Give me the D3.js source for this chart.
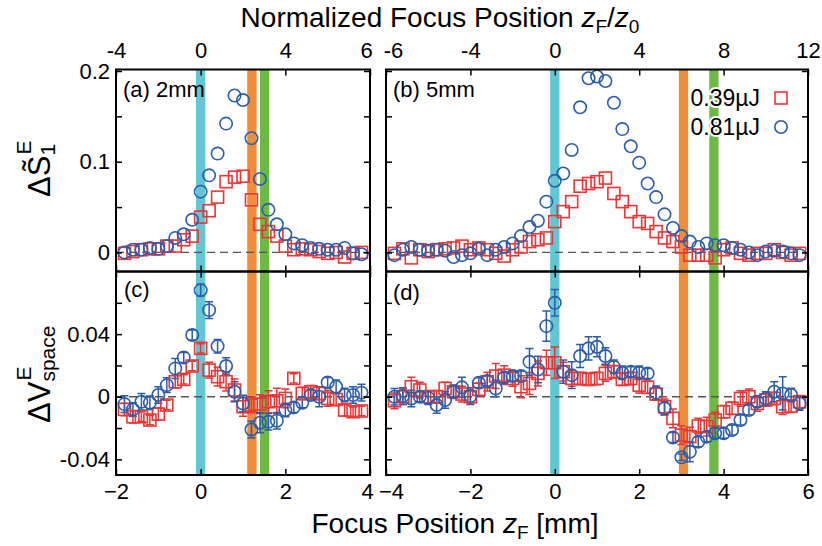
<!DOCTYPE html>
<html>
<head>
<meta charset="utf-8">
<script src="https://cdn.jsdelivr.net/npm/d3@7"></script>
<style>
body { margin: 0; background: #fff; }
text { font-family: "Liberation Sans", Arial, sans-serif; }
</style>
</head>
<body>
<div id="chart"></div>
<script>
const W = 822, H = 546;

// ---- data (focus position in mm) ----
const posA = [-1.8,-1.6,-1.4,-1.2,-1.0,-0.8,-0.6,-0.4,-0.2,0,0.2,0.4,0.6,0.8,1.0,1.2,1.4,1.6,1.8,2.0,2.2,2.4,2.6,2.8,3.0,3.2,3.4,3.6,3.8];
const posB = [-3.8,-3.6,-3.4,-3.2,-3.0,-2.8,-2.6,-2.4,-2.2,-2.0,-1.8,-1.6,-1.4,-1.2,-1.0,-0.8,-0.6,-0.4,-0.2,0,
  0.2,0.4,0.6,0.8,1.0,1.2,1.4,1.6,1.8,2.0,2.2,2.4,2.6,2.8,3.0,3.2,3.4,3.6,3.8,4.0,
  4.2,4.4,4.6,4.8,5.0,5.2,5.4,5.6,5.8];

// (a) 2mm, dS1
const s1A_low  = [-0.001,0.001,0.003,0.004,0.004,0.007,0.007,0.014,0.018,0.039,0.046,0.061,0.078,0.083,0.084,0.058,0.031,0.023,0.018,0.007,0.003,0.004,0.003,0.001,-0.001,0.000,-0.005,-0.001,0.000];
const s1A_high = [0.000,0.003,0.003,0.005,0.004,0.007,0.016,0.020,0.036,0.067,0.085,0.109,0.142,0.173,0.168,0.126,0.081,0.047,0.031,0.020,0.010,0.008,0.005,0.004,0.003,0.003,0.005,-0.001,-0.002];

// (b) 5mm, dS1
const s1B_low  = [-0.001,0.004,-0.006,0.003,0.001,0.003,0.004,0.005,0.007,0.003,0.005,0.003,-0.001,-0.004,0.003,0.006,0.012,0.014,0.016,0.034,
  0.045,0.056,0.073,0.076,0.078,0.082,0.065,0.056,0.045,0.034,0.032,0.023,0.016,0.012,0.006,-0.003,-0.003,-0.003,-0.006,0.003,
  0.005,-0.001,-0.003,-0.001,-0.001,0.003,0.000,-0.003,-0.001];
const s1B_high = [-0.003,0.003,0.006,0.003,0.002,0.003,0.002,-0.005,-0.003,-0.001,0.004,-0.003,0.003,0.006,0.010,0.018,0.028,0.035,0.056,0.079,
  0.087,0.113,0.160,0.192,0.194,0.189,0.165,0.136,0.117,0.099,0.076,0.061,0.042,0.027,0.018,0.012,0.006,0.010,0.008,0.008,
  0.005,0.003,0.000,-0.003,0.001,0.002,0.001,-0.001,-0.003];

// (c) 2mm, dV space
const vA_low      = [-0.0081,-0.0128,-0.0128,-0.0149,-0.0111,-0.0053,0.0096,0.0111,0.0196,0.0309,0.017,0.0128,0.0096,0.0043,-0.0064,-0.0053,-0.0047,-0.0032,-0.0026,-0.0011,0.0117,0.0021,0.0032,0.0021,-0.0011,-0.0017,-0.0085,-0.0096,-0.0091];
const vA_low_err  = [0.004,0.004,0.003,0.003,0.004,0.003,0.004,0.003,0.003,0.003,0.005,0.006,0.006,0.007,0.006,0.005,0.006,0.007,0.008,0.006,0.003,0.004,0.004,0.004,0.005,0.004,0.004,0.003,0.003];
const vA_high     = [-0.0047,-0.0081,-0.0032,-0.0038,0.0011,0.0074,0.0181,0.0251,0.0394,0.0681,0.0553,0.0323,0.0196,0.0032,-0.0043,-0.0209,-0.0166,-0.016,-0.0153,-0.0085,-0.0068,-0.0038,0.0011,0.0,0.0091,0.0064,0.0011,0.0011,0.0026];
const vA_high_err = [0.0053,0.0043,0.0053,0.0043,0.0053,0.0047,0.0064,0.0032,0.0032,0.0038,0.0053,0.0043,0.0053,0.0064,0.0053,0.0053,0.0064,0.0053,0.0053,0.0043,0.0032,0.0032,0.0032,0.0064,0.0032,0.0043,0.0043,0.0053,0.0053];

// (d) 5mm, dV space
const vB_low      = [-0.0026,0.0,0.0064,0.0043,0.0,0.0,0.0053,0.0032,0.0017,0.0,0.0047,0.0096,0.0132,0.0138,0.0117,0.0064,0.0085,0.0149,0.0217,0.0217,
  0.016,0.0117,0.0117,0.0111,0.0117,0.0149,0.016,0.0111,0.0117,0.0074,0.006,0.0017,-0.0064,-0.0138,-0.0245,-0.0255,-0.0187,-0.0191,-0.0149,-0.0096,
  -0.0074,-0.0011,0.0,-0.0043,-0.0021,-0.0011,-0.0064,-0.006,-0.0032];
const vB_low_err  = [0.005,0.005,0.006,0.005,0.004,0.004,0.004,0.004,0.005,0.004,0.004,0.006,0.008,0.006,0.005,0.007,0.007,0.008,0.008,0.010,
  0.006,0.005,0.004,0.004,0.004,0.005,0.004,0.004,0.004,0.005,0.004,0.004,0.005,0.006,0.006,0.006,0.005,0.006,0.005,0.004,
  0.004,0.005,0.005,0.005,0.004,0.004,0.005,0.004,0.004];
const vB_high     = [0.0,0.0004,-0.0011,0.0,-0.0006,-0.0053,-0.0021,0.0032,0.006,0.0004,0.0089,0.01,0.0053,0.0123,0.0132,0.0132,0.0223,0.0174,0.0451,0.06,
  0.016,0.0138,0.026,0.0309,0.0319,0.026,0.0191,0.0153,0.016,0.0153,0.0149,0.0026,-0.0074,-0.026,-0.0387,-0.0351,-0.0287,-0.0255,-0.0234,-0.0234,
  -0.0213,-0.0149,-0.0085,-0.0032,-0.0011,0.0032,0.0021,0.0011,-0.0043];
const vB_high_err = [0.0053,0.0053,0.0053,0.0032,0.0043,0.0053,0.0053,0.0043,0.0064,0.0053,0.0032,0.0032,0.0053,0.0032,0.0032,0.0032,0.0085,0.0085,0.0096,0.0085,
  0.0074,0.0085,0.0074,0.0074,0.0064,0.0053,0.0043,0.0043,0.0032,0.0043,0.0032,0.0043,0.0043,0.0032,0.0021,0.0064,0.0032,0.0032,0.0032,0.0032,
  0.0032,0.0032,0.0032,0.0032,0.0043,0.0064,0.0106,0.0043,0.0043];

// marker bands (mm)
const bandsA = [0, 1.21, 1.51];
const bandsB = [0, 3.05, 3.77];
const BAND_W = 0.22;

const legendLabels = ["0.39\u00b5J", "0.81\u00b5J"];

// tick labels
const xTicksA = [-2, 0, 2, 4];
const xTicksB = [-4, -2, 0, 2, 4, 6];
const nTicksA = [-4, 0, 4, 8];
const nTicksB = [-8, -4, 0, 4, 8, 12];
const nLabelsA = ["-4", "0", "4", "6"];
const nLabelsB = ["-6", "-4", "0", "4", "8", "12"];
const sTicks = [0, 0.05, 0.1, 0.15, 0.2];
const sLabels = {0: "0", 0.1: "0.1", 0.2: "0.2"};
const vTicks = [-0.04, -0.02, 0, 0.02, 0.04, 0.06];
const vLabels = {"-0.04": "-0.04", "0": "0", "0.04": "0.04"};

// ---- style ----
const RED = "#ee3535", BLUE = "#2c5dab";
const BAND_COL = ["#62c6d3", "#ef8d38", "#6cb944"];
const FONT = 22;

// ---- layout ----
const TOP_Y = 69.5, MID_Y = 271.5, BOT_Y = 475;

const xA = d3.scaleLinear().domain([-2, 4]).range([116, 370]);
const xB = d3.scaleLinear().domain([-4, 6]).range([386, 808]);
const nA = d3.scaleLinear().domain([-4, 8]).range([116, 370]);
const nB = d3.scaleLinear().domain([-8, 12]).range([386, 808]);
const yS = d3.scaleLinear().domain([-0.021, 0.2]).range([MID_Y, 71]);
const yV = d3.scaleLinear().domain([-0.05, 0.08]).range([BOT_Y, MID_Y]);

const svg = d3.select("#chart").append("svg")
  .attr("width", W)
  .attr("height", H)
  .style("background", "#fff");

// bands behind everything
function drawBands(x, bands) {
  svg.append("g").selectAll("rect")
    .data(bands)
    .enter()
    .append("rect")
    .attr("x", d => x(d - BAND_W / 2))
    .attr("width", d => x(d + BAND_W / 2) - x(d - BAND_W / 2))
    .attr("y", TOP_Y)
    .attr("height", BOT_Y - TOP_Y)
    .attr("fill", (d, i) => BAND_COL[i]);
}
drawBands(xA, bandsA);
drawBands(xB, bandsB);

// zero lines
function zeroLine(x, y) {
  svg.append("line")
    .attr("x1", x.range()[0]).attr("x2", x.range()[1])
    .attr("y1", y(0)).attr("y2", y(0))
    .attr("stroke", "#555")
    .attr("stroke-width", 1.3)
    .attr("stroke-dasharray", "8,5");
}
zeroLine(xA, yS); zeroLine(xB, yS); zeroLine(xA, yV); zeroLine(xB, yV);

function errorBars(x, y, xs, vals, errs, col) {
  const g = svg.append("g").attr("stroke", col).attr("stroke-width", 1.5);
  const data = xs.map((d, i) => ({x: d, v: vals[i], e: errs[i]}));
  g.selectAll(".eb").data(data).enter().append("path")
    .attr("fill", "none")
    .attr("d", d => {
      const cx = x(d.x), y1 = y(d.v - d.e), y2 = y(d.v + d.e);
      return `M${cx},${y1}V${y2}M${cx - 4},${y1}H${cx + 4}M${cx - 4},${y2}H${cx + 4}`;
    });
}

function squares(x, y, xs, vals) {
  svg.append("g").selectAll("rect")
    .data(xs.map((d, i) => [d, vals[i]]))
    .enter().append("rect")
    .attr("x", d => x(d[0]) - 6).attr("y", d => y(d[1]) - 6)
    .attr("width", 12).attr("height", 12)
    .attr("fill", "none").attr("stroke", RED).attr("stroke-width", 1.6);
}

function circles(x, y, xs, vals) {
  svg.append("g").selectAll("circle")
    .data(xs.map((d, i) => [d, vals[i]]))
    .enter().append("circle")
    .attr("cx", d => x(d[0])).attr("cy", d => y(d[1]))
    .attr("r", 6.2)
    .attr("fill", "none").attr("stroke", BLUE).attr("stroke-width", 1.6);
}

// (a), (b)
squares(xA, yS, posA, s1A_low);  circles(xA, yS, posA, s1A_high);
squares(xB, yS, posB, s1B_low);  circles(xB, yS, posB, s1B_high);
// (c), (d)
errorBars(xA, yV, posA, vA_low, vA_low_err, RED);
errorBars(xA, yV, posA, vA_high, vA_high_err, BLUE);
squares(xA, yV, posA, vA_low);  circles(xA, yV, posA, vA_high);
errorBars(xB, yV, posB, vB_low, vB_low_err, RED);
errorBars(xB, yV, posB, vB_high, vB_high_err, BLUE);
squares(xB, yV, posB, vB_low);  circles(xB, yV, posB, vB_high);

// frames
[[xA, TOP_Y, MID_Y], [xB, TOP_Y, MID_Y], [xA, MID_Y, BOT_Y], [xB, MID_Y, BOT_Y]].forEach(([x, y0, y1]) => {
  svg.append("rect")
    .attr("x", x.range()[0]).attr("y", y0)
    .attr("width", x.range()[1] - x.range()[0]).attr("height", y1 - y0)
    .attr("fill", "none").attr("stroke", "#000").attr("stroke-width", 2);
});

// axes
function axis(gen, tx, ty, pad) {
  const g = svg.append("g")
    .attr("transform", `translate(${tx},${ty})`)
    .call(gen.tickSize(-6).tickSizeOuter(0).tickPadding(pad));
  g.select(".domain").remove();
  g.selectAll(".tick line").attr("stroke", "#000").attr("stroke-width", 1.5);
  g.attr("font-size", FONT).attr("font-family", "'Liberation Sans', Arial, sans-serif");
  g.selectAll("text").attr("fill", "#000");
  return g;
}

// top axis (normalized)
axis(d3.axisTop(nA).tickValues(nTicksA).tickFormat((d, i) => nLabelsA[i]), 0, TOP_Y, 12)
  .selectAll("text").attr("dx", (d, i) => i === nTicksA.length - 1 ? -4 : 0);
axis(d3.axisTop(nB).tickValues(nTicksB).tickFormat((d, i) => nLabelsB[i]), 0, TOP_Y, 12)
  .selectAll("text").attr("dx", (d, i) => i === 0 ? 7 : 0);

// middle border ticks
axis(d3.axisBottom(xA).tickValues(xTicksA).tickFormat(""), 0, MID_Y, 0);
axis(d3.axisBottom(xB).tickValues(xTicksB).tickFormat(""), 0, MID_Y, 0);
axis(d3.axisTop(xA).tickValues(xTicksA).tickFormat(""), 0, MID_Y, 0);
axis(d3.axisTop(xB).tickValues(xTicksB).tickFormat(""), 0, MID_Y, 0);

// bottom axis (mm)
axis(d3.axisBottom(xA).tickValues(xTicksA).tickFormat(d3.format("")), 0, BOT_Y, 8)
  .selectAll("text").attr("dx", (d, i) => i === xTicksA.length - 1 ? -3 : 0);
axis(d3.axisBottom(xB).tickValues(xTicksB).tickFormat(d3.format("")), 0, BOT_Y, 8)
  .selectAll("text").attr("dx", (d, i) => i === 0 ? 5 : 0);

// y axes
axis(d3.axisLeft(yS).tickValues(sTicks).tickFormat(d => sLabels[d] || ""), xA.range()[0], 0, 6);
axis(d3.axisRight(yS).tickValues(sTicks).tickFormat(""), xA.range()[1], 0, 0);
axis(d3.axisLeft(yS).tickValues(sTicks).tickFormat(""), xB.range()[0], 0, 0);
axis(d3.axisRight(yS).tickValues(sTicks).tickFormat(""), xB.range()[1], 0, 0);
axis(d3.axisLeft(yV).tickValues(vTicks).tickFormat(d => vLabels[String(+d.toFixed(2))] || ""), xA.range()[0], 0, 6);
axis(d3.axisRight(yV).tickValues(vTicks).tickFormat(""), xA.range()[1], 0, 0);
axis(d3.axisLeft(yV).tickValues(vTicks).tickFormat(""), xB.range()[0], 0, 0);
axis(d3.axisRight(yV).tickValues(vTicks).tickFormat(""), xB.range()[1], 0, 0);

// panel labels
const panelLabels = [["(a) 2mm", 123, 97], ["(b) 5mm", 393, 97], ["(c)", 124, 297], ["(d)", 393, 300]];
svg.append("g").selectAll("text").data(panelLabels).enter().append("text")
  .attr("x", d => d[0] ? d[1] : 0).attr("y", d => d[2])
  .attr("font-size", FONT)
  .text(d => d[0]);

// legend
const leg = svg.append("g");
legendLabels.forEach((t, i) => {
  const yy = 98 + i * 29;
  leg.append("text")
    .attr("x", 760).attr("y", yy + 8)
    .attr("text-anchor", "end")
    .attr("font-size", 23)
    .attr("stroke", "#fff").attr("stroke-width", 4).attr("paint-order", "stroke")
    .attr("fill", "#000")
    .text(t);
  if (i === 0) {
    leg.append("rect").attr("x", 775).attr("y", yy - 6).attr("width", 12).attr("height", 12)
      .attr("fill", "none").attr("stroke", RED).attr("stroke-width", 1.6);
  } else {
    leg.append("circle").attr("cx", 781).attr("cy", yy).attr("r", 6.2)
      .attr("fill", "none").attr("stroke", BLUE).attr("stroke-width", 1.6);
  }
});

// y titles
function yTitle(bx, by, main, sub, sup) {
  const t = svg.append("text")
    .attr("transform", `translate(${bx},${by}) rotate(-90)`)
    .attr("font-size", 31);
  const m = t.append("tspan").text(main);
  t.append("tspan").attr("dy", 5).attr("font-size", 21).text(sub);
  const w = m.node().getComputedTextLength();
  t.append("tspan").attr("x", w + 1).attr("y", -19).attr("font-size", 21).text(sup);
}
yTitle(50, 197, "\u0394S\u0303", "1", "E");
yTitle(50, 423, "\u0394V", "space", "E");

// x titles
const topT = svg.append("text").attr("x", 440).attr("y", 27)
  .attr("text-anchor", "middle").attr("font-size", 28);
topT.append("tspan").text("Normalized Focus Position ");
topT.append("tspan").attr("font-style", "italic").text("z");
topT.append("tspan").attr("font-size", 19).attr("dy", 6).text("F");
topT.append("tspan").attr("dy", -6).text("/");
topT.append("tspan").attr("font-style", "italic").text("z");
topT.append("tspan").attr("font-size", 19).attr("dy", 6).text("0");

const botT = svg.append("text").attr("x", 455).attr("y", 533)
  .attr("text-anchor", "middle").attr("font-size", 28);
botT.append("tspan").text("Focus Position ");
botT.append("tspan").attr("font-style", "italic").text("z");
botT.append("tspan").attr("font-size", 19).attr("dy", 6).text("F");
botT.append("tspan").attr("dy", -6).text(" [mm]");
</script>
</body>
</html>
